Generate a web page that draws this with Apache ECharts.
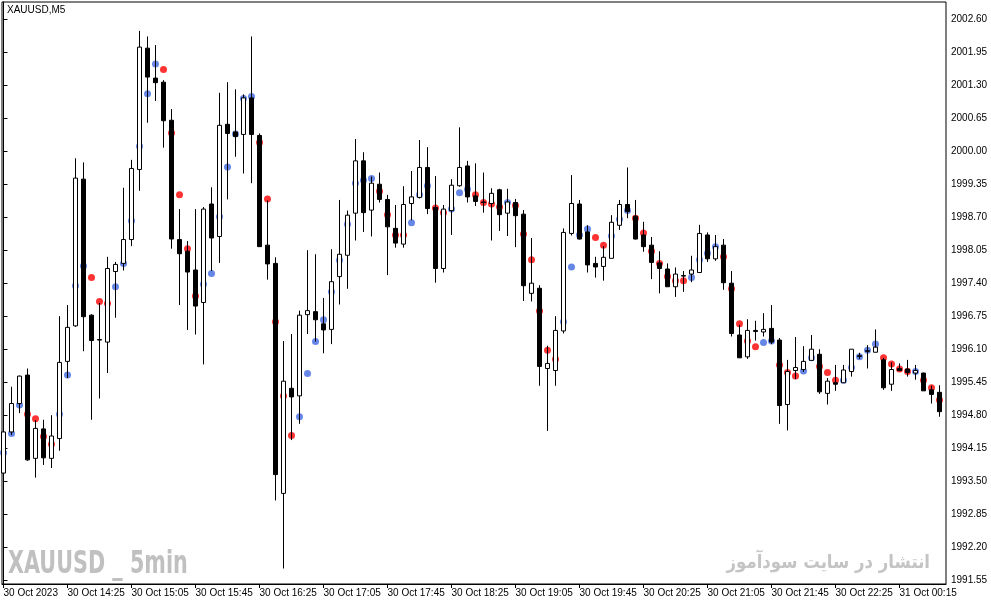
<!DOCTYPE html>
<html>
<head>
<meta charset="utf-8">
<script src="https://cdn.jsdelivr.net/npm/echarts@6/dist/echarts.min.js"></script>
<style>html,body{margin:0;padding:0;background:#fff}#c{width:991px;height:605px}</style>
</head>
<body>
<div id="c"></div>
<script>
const open = [1993.67,1994.48,1995.04,1995.60,1993.96,1994.54,1993.96,1994.35,1995.87,1996.57,
1999.46,1996.78,1996.30,1996.25,1997.64,1997.80,1998.27,1999.65,2002.04,2001.45,
2001.37,2000.62,1998.27,1998.04,1997.67,1997.03,1998.97,1998.33,2000.54,2000.39,
2000.34,2001.06,2000.32,1998.16,1997.80,1993.27,1995.34,1995.19,1996.79,1996.85,
1996.61,1996.50,1997.54,1997.96,1998.79,1999.82,1998.85,1999.36,1999.06,1998.49,
1998.18,1998.98,1999.10,1999.69,1998.90,1997.70,1998.84,1999.33,1999.72,1999.13,
1999.01,1998.98,1999.25,1998.79,1999.00,1998.77,1997.21,1997.31,1995.73,1995.69,
1996.47,1998.39,1998.97,1998.42,1997.80,1997.74,1997.90,1998.55,1998.96,1998.73,
1998.36,1998.16,1997.81,1997.69,1997.34,1997.56,1997.59,1997.62,1998.36,1997.89,
1998.16,1997.41,1996.39,1995.96,1996.48,1996.45,1996.52,1996.29,1995.02,1995.69,
1995.71,1995.89,1996.01,1995.24,1995.45,1995.45,1995.67,1995.98,1996.08,1996.05,
1995.90,1995.42,1995.73,1995.72,1995.64,1995.64,1995.31,1995.26];
const close = [1994.48,1995.04,1995.58,1993.93,1994.55,1993.97,1994.40,1995.85,1996.54,1999.48,
1996.75,1996.28,1996.29,1997.70,1997.78,1998.27,1999.67,2002.06,2001.47,2001.36,
2000.61,1998.28,1997.99,1997.63,1996.96,1998.87,1998.30,2000.52,2000.36,2000.30,
2001.06,2000.34,1998.13,1997.79,1993.64,1995.48,1995.17,1996.78,1996.87,1996.69,
1996.49,1997.44,1997.98,1998.75,1999.82,1998.80,1999.38,1999.06,1998.52,1998.20,
1998.96,1999.11,1999.69,1998.88,1997.70,1998.87,1999.34,1999.69,1999.11,1999.02,
1999.00,1999.18,1998.76,1999.01,1998.74,1997.36,1997.41,1995.77,1995.83,1996.48,
1998.41,1998.98,1998.28,1997.77,1997.73,1997.92,1998.61,1998.96,1998.82,1998.28,
1998.13,1997.82,1997.70,1997.34,1997.59,1997.55,1997.67,1998.39,1997.89,1998.13,
1997.42,1996.42,1995.94,1996.48,1996.46,1996.50,1996.25,1995.00,1995.67,1995.75,
1995.87,1996.11,1995.27,1995.48,1995.42,1995.70,1996.11,1995.97,1996.07,1996.15,
1995.35,1995.71,1995.69,1995.65,1995.69,1995.29,1995.22,1994.88];
const high = [1994.81,1995.37,1995.59,1995.73,1994.71,1994.72,1994.81,1996.76,1996.98,1999.87,
1999.79,1996.80,1997.02,1997.93,1997.83,1999.29,1999.84,2002.38,2002.27,2002.10,
2001.41,2000.84,1998.87,1998.24,1998.87,1998.91,1999.30,2001.16,2001.37,2001.23,
2001.13,2002.27,2000.36,1999.04,1997.92,1996.27,1996.41,1996.87,1998.06,1997.98,
1997.12,1998.08,1999.05,1998.84,2000.25,1999.99,1999.51,1999.59,1999.15,1998.95,
1999.32,1999.62,2000.23,2000.09,1999.52,1998.95,1999.46,2000.48,1999.82,1999.77,
1999.59,1999.28,1999.27,1999.27,1999.07,1998.85,1998.30,1997.37,1996.18,1996.76,
1998.49,1999.54,1999.05,1998.55,1997.93,1998.14,1998.75,1999.05,1999.69,1999.05,
1998.62,1998.32,1998.04,1997.80,1997.72,1997.65,1997.95,1998.56,1998.41,1998.36,
1998.28,1997.65,1996.59,1996.70,1996.67,1996.82,1996.98,1996.33,1995.90,1996.35,
1996.17,1996.39,1996.11,1995.54,1995.80,1995.80,1996.11,1996.04,1996.19,1996.50,
1995.94,1995.85,1995.83,1995.90,1995.80,1995.65,1995.39,1995.40];
const low = [1993.63,1994.42,1994.85,1993.91,1993.58,1993.83,1993.77,1994.11,1995.54,1996.55,
1996.07,1994.72,1995.14,1995.64,1996.73,1997.66,1998.14,1999.23,2000.57,2001.00,
2000.08,1998.09,1996.98,1996.49,1996.40,1995.81,1997.65,1997.81,1999.06,1999.90,
1999.57,1999.38,1998.13,1997.48,1993.13,1991.79,1994.32,1994.64,1996.41,1996.26,
1996.03,1996.21,1996.99,1997.30,1998.25,1998.42,1998.33,1999.00,1997.57,1998.11,
1998.11,1998.65,1999.08,1998.77,1997.42,1997.62,1998.36,1999.31,1999.00,1998.93,
1998.80,1998.25,1998.44,1998.34,1998.12,1997.06,1997.05,1995.39,1994.50,1995.39,
1996.42,1998.35,1998.27,1997.62,1997.52,1997.46,1997.90,1998.46,1998.69,1998.27,
1998.03,1997.49,1997.21,1997.34,1997.14,1997.24,1997.43,1997.62,1997.83,1997.85,
1997.28,1996.36,1995.94,1995.92,1996.28,1996.36,1996.21,1994.64,1994.51,1995.52,
1995.66,1995.89,1995.23,1995.02,1995.29,1995.45,1995.57,1995.92,1995.73,1996.05,
1995.31,1995.29,1995.69,1995.57,1995.51,1995.29,1995.04,1994.78];
const dots = [1994.07,1994.45,1995.01,1994.83,1994.74,1994.39,1994.24,1994.83,1995.60,1997.36,
1997.75,1997.52,1997.05,1997.01,1997.34,1997.80,1998.64,2000.11,2001.14,2001.73,
2001.62,2000.37,1999.15,1998.09,1997.16,1997.39,1997.60,1998.72,1999.70,2000.35,
2001.05,2001.09,2000.18,1999.07,1996.65,1995.19,1994.41,1994.78,1995.63,1996.26,
1996.69,1997.24,1997.86,1998.57,1999.38,1999.44,1999.47,1999.22,1998.76,1998.36,
1998.36,1998.60,1999.15,1999.33,1998.89,1998.80,1998.87,1999.19,1999.26,1999.15,
1999.00,1998.97,1998.91,1999.00,1998.94,1998.38,1997.87,1996.86,1996.09,1995.91,
1996.65,1997.73,1998.36,1998.48,1998.31,1998.16,1998.34,1998.67,1998.84,1998.69,
1998.40,1998.04,1997.80,1997.54,1997.46,1997.46,1997.52,1997.87,1998.00,1998.13,
1997.93,1997.30,1996.61,1996.27,1996.16,1996.24,1996.27,1995.80,1995.65,1995.58,
1995.68,1995.94,1995.77,1995.65,1995.50,1995.50,1995.75,1995.96,1996.09,1996.21,
1995.94,1995.82,1995.72,1995.67,1995.67,1995.50,1995.35,1995.11];
const dotSide = ['B','B','B','R','R','R','R','B','B','B',
'B','R','R','R','B','B','B','B','B','B',
'R','R','R','R','R','B','B','B','B','B',
'B','B','R','R','R','R','R','B','B','B',
'B','B','B','B','B','B','B','R','R','R',
'R','B','B','B','R','R','B','B','B','R',
'R','R','R','B','R','R','R','R','R','R',
'B','B','B','B','R','R','B','B','B','R',
'R','R','R','R','R','R','B','B','B','B',
'R','R','R','R','R','B','B','R','R','R',
'B','B','R','R','R','B','B','B','B','B',
'R','R','R','R','B','R','R','R'];
const xTickIndex = [0,8,16,24,32,40,48,56,64,72,80,88,96,104,112];
const xTickLabels = ['30 Oct 2023','30 Oct 14:25','30 Oct 15:05','30 Oct 15:45','30 Oct 16:25',
'30 Oct 17:05','30 Oct 17:45','30 Oct 18:25','30 Oct 19:05','30 Oct 19:45','30 Oct 20:25',
'30 Oct 21:05','30 Oct 21:45','30 Oct 22:25','31 Oct 00:15'];
const yTicks = [1991.55,1992.20,1992.85,1993.50,1994.15,1994.80,1995.45,1996.10,1996.75,1997.40,
1998.05,1998.70,1999.35,2000.00,2000.65,2001.30,2001.95,2002.60];

const candleData = open.map((o, i) => [i, o, close[i], low[i], high[i]]);
const dotData = dots.map((v, i) => ({
  value: [i, v],
  itemStyle: { color: dotSide[i] === 'B' ? '#4169E1' : '#FF0000' }
}));

const chart = echarts.init(document.getElementById('c'), null, { renderer: 'canvas' });
chart.setOption({
  animation: false,
  backgroundColor: '#ffffff',
  grid: { left: 2, right: 45, top: 2, bottom: 21, show: true, borderColor: '#000', borderWidth: 1, backgroundColor: 'transparent' },
  xAxis: {
    type: 'value',
    min: -0.1875,
    max: 117.8125,
    axisLine: { show: true, onZero: false, lineStyle: { color: '#000', width: 1 } },
    axisTick: { show: true, inside: false, length: 4, lineStyle: { color: '#000' }, customValues: xTickIndex },
    axisLabel: {
      customValues: xTickIndex,
      align: 'left',
      margin: 4,
      color: '#000',
      fontSize: 10,
      fontFamily: 'Liberation Sans, Arial, sans-serif',
      formatter: function (v) { const k = xTickIndex.indexOf(Math.round(v)); return k >= 0 ? xTickLabels[k] : ''; }
    },
    splitLine: { show: false }
  },
  yAxis: {
    type: 'value',
    position: 'right',
    min: 1991.485,
    max: 2002.949,
    scale: true,
    axisLine: { show: true, lineStyle: { color: '#000', width: 1 } },
    axisTick: { show: true, inside: false, length: 4, lineStyle: { color: '#000' }, customValues: yTicks },
    axisLabel: {
      customValues: yTicks,
      margin: 5,
      color: '#000',
      fontSize: 10,
      fontFamily: 'Liberation Sans, Arial, sans-serif',
      formatter: function (v) { return v.toFixed(2); }
    },
    splitLine: { show: false }
  },
  graphic: [
    { type: 'text', x: 7, y: 5, style: { text: 'XAUUSD,M5', font: '10px "Liberation Sans", Arial, sans-serif', fill: '#000', verticalAlign: 'top' } },
    { type: 'text', x: 8, y: 549, scaleX: 0.72, scaleY: 1.0, style: { text: 'XAUUSD _ 5min', font: 'bold 32px "DejaVu Sans Condensed", sans-serif', fill: '#c0c0c0', verticalAlign: 'top' } },
    { type: 'text', x: 930, y: 554, scaleX: 0.87, style: { text: 'انتشار در سایت سودآموز', font: 'bold 19px "DejaVu Sans", sans-serif', fill: '#c4c4c4', align: 'right', verticalAlign: 'top' } }
  ],
  series: [
    {
      type: 'scatter',
      z: 1,
      symbol: 'circle',
      symbolSize: 7,
      data: dotData,
      silent: true
    },
    {
      type: 'candlestick',
      z: 3,
      barWidth: 5,
      encode: { x: 0, y: [1, 2, 3, 4] },
      data: candleData,
      itemStyle: { color: '#ffffff', color0: '#000000', borderColor: '#000000', borderColor0: '#000000', borderWidth: 1 },
      silent: true
    }
  ]
});
</script>
</body>
</html>
